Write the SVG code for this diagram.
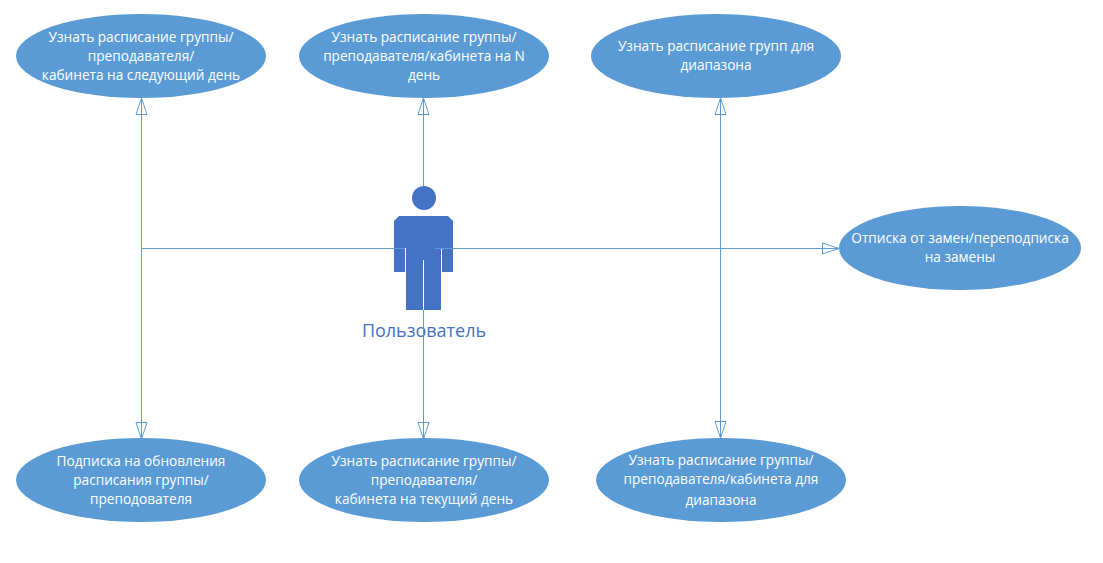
<svg xmlns="http://www.w3.org/2000/svg" width="1103" height="563" viewBox="0 0 1103 563">
<style>
.n{fill:#5b9bd5}
.t{font-family:"Open Sans","Noto Sans",sans-serif;font-size:13.65px;fill:#fff;text-anchor:middle}
.c{fill:none;stroke:#5b9bd5;stroke-width:1}
</style>
<defs><marker id="a" markerUnits="userSpaceOnUse" markerWidth="20" markerHeight="14" refX="17" refY="7" orient="auto"><path d="M0.500 1.500L17 7L0.500 12.500Z" fill="none" stroke="#5b9bd5"/></marker></defs>
<rect width="1103" height="563" fill="#fff"/>
<g id="actor"><circle cx="424" cy="198" r="12" fill="#4472c4"/><path d="M399 216H448L453 221V272H442V248H441V310H424V260H423V310H406V248H405V272H394V221Z" fill="#4472c4"/><text x="424" y="337" text-anchor="middle" font-family="Open Sans,Noto Sans,sans-serif" font-size="18" fill="#4472c4">Пользователь</text></g>
<g id="connectors">
<path class="c" d="M141.500 248.500V98" marker-end="url(#a)"/>
<path class="c" d="M141.500 248.500V439" marker-end="url(#a)"/>
<path class="c" d="M423.500 186V98" marker-end="url(#a)"/>
<path class="c" d="M423.500 310V439" marker-end="url(#a)"/>
<path class="c" d="M720.500 248.500V98" marker-end="url(#a)"/>
<path class="c" d="M720.500 248.500V438" marker-end="url(#a)"/>
<path class="c" d="M141.500 248.500H405"/>
<path class="c" d="M435 248.500H839" marker-end="url(#a)"/>
</g>
<g id="n1"><ellipse class="n" cx="141" cy="56" rx="125" ry="42"/><text class="t" x="141" y="42">Узнать расписание группы/</text><text class="t" x="141" y="61">преподавателя/</text><text class="t" x="141" y="80">кабинета на следующий день</text></g>
<g id="n2"><ellipse class="n" cx="424" cy="56" rx="125" ry="42"/><text class="t" x="424" y="42">Узнать расписание группы/</text><text class="t" x="424" y="61">преподавателя/кабинета на N</text><text class="t" x="424" y="80">день</text></g>
<g id="n3"><ellipse class="n" cx="716" cy="56" rx="125" ry="42"/><text class="t" x="716" y="51">Узнать расписание групп для</text><text class="t" x="716" y="70">диапазона</text></g>
<g id="n4"><ellipse class="n" cx="960" cy="248" rx="121" ry="42"/><text class="t" x="960" y="243">Отписка от замен/переподписка</text><text class="t" x="960" y="262">на замены</text></g>
<g id="n5"><ellipse class="n" cx="141" cy="480" rx="125" ry="42"/><text class="t" x="141" y="466">Подписка на обновления</text><text class="t" x="141" y="485">расписания группы/</text><text class="t" x="141" y="504">преподователя</text></g>
<g id="n6"><ellipse class="n" cx="424" cy="480" rx="125" ry="42"/><text class="t" x="424" y="466">Узнать расписание группы/</text><text class="t" x="424" y="485">преподавателя/</text><text class="t" x="424" y="504">кабинета на текущий день</text></g>
<g id="n7"><ellipse class="n" cx="721" cy="480" rx="125" ry="42"/><text class="t" x="721" y="465">Узнать расписание группы/</text><text class="t" x="721" y="484">преподавателя/кабинета для</text><text class="t" x="721" y="505">диапазона</text></g>
</svg>
